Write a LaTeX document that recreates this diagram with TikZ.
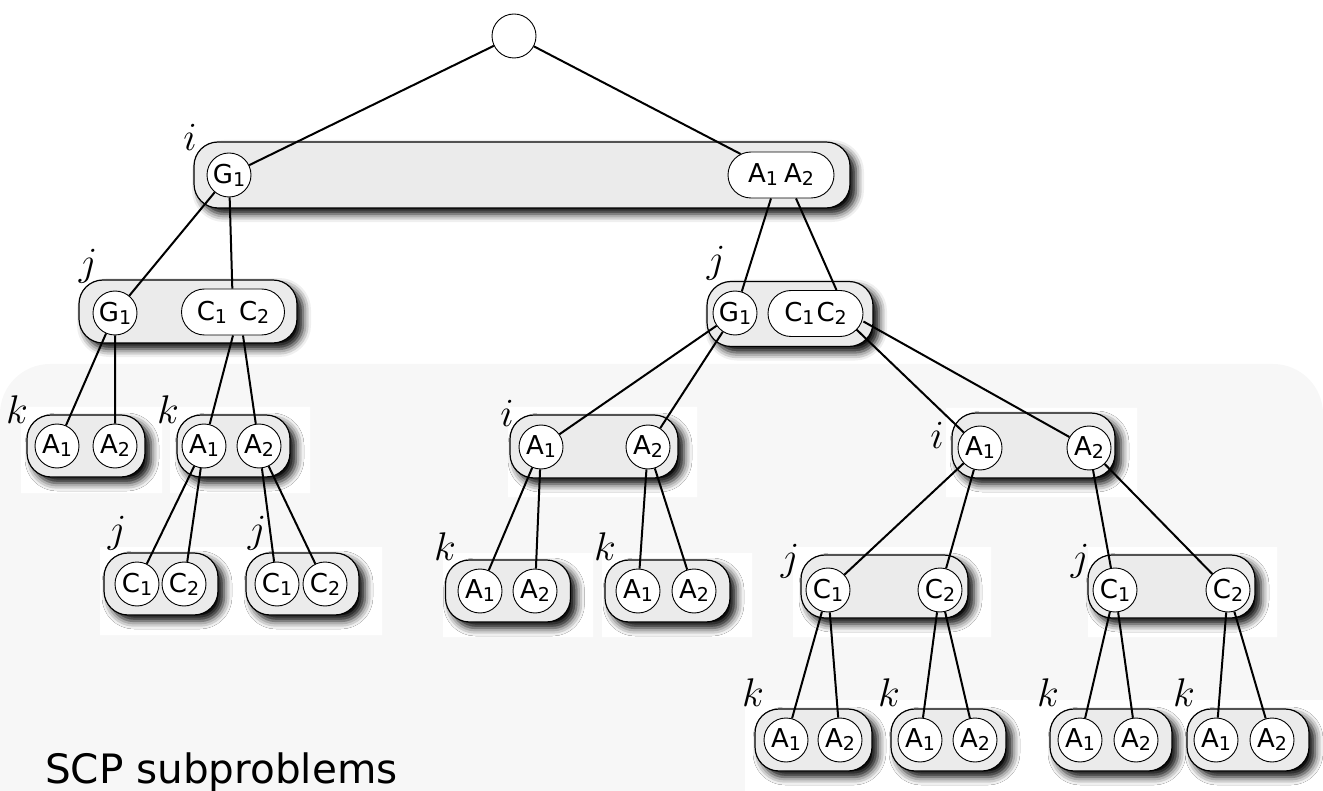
\RequirePackage{fix-cm}
\documentclass[tikz,border=0pt]{standalone}
\usepackage{fontspec}
\newfontfamily\dejavu{DejaVu Sans}
\usetikzlibrary{shapes.misc,shadows.blur}
\newcommand\ix[1]{\raisebox{-3pt}{\fontsize{19}{19}\selectfont#1}}

\begin{document}
\begin{tikzpicture}[x=1pt,y=-1pt,
    grp/.style={draw,line width=1.2pt,fill=black!8,rounded corners=24pt,inner sep=0pt,
      blur shadow={shadow xshift=6pt,shadow yshift=-6pt,shadow blur radius=8pt,shadow opacity=100}},
    ball/.style={circle,draw,line width=0.9pt,fill=white,minimum size=44pt,inner sep=0pt,
      font=\dejavu\fontsize{26}{26}\selectfont},
    pill/.style={rounded rectangle,draw,line width=0.9pt,fill=white,minimum height=46pt,inner sep=0pt,
      font=\dejavu\fontsize{26}{26}\selectfont},
    lvl/.style={inner sep=0pt,font=\fontsize{40}{40}\selectfont},
    edge/.style={line width=2pt}]
    \useasboundingbox (0,0) rectangle (1323,791);
    % shaded lower region and the white patches on it
    \fill[black!3] (0,791) -- (0,414) arc[start angle=180,end angle=270,radius=50] -- (1273,364)
      arc[start angle=270,end angle=360,radius=50] -- (1323,791) -- cycle;
    \fill[white] (21,407) rectangle (162,493) (170,407) rectangle (310,493) (100,547) rectangle (382,635);
    \fill[white] (508,407) rectangle (697,497) (443,553) rectangle (593,637) (602,553) rectangle (752,637);
    \fill[white] (946,408) rectangle (1137,497) (793,547) rectangle (991,637) (1088,547) rectangle (1277,637);
    \fill[white] (745,700) rectangle (1323,791);

    % root and first level
    \node[ball] (r) at (514,36) {};
    \node[grp,minimum width=656pt,minimum height=66pt] (bI) at (522,175) {};
    \node[ball] (iG) at (229,175) {G\ix1};
    \node[pill,minimum width=106pt] (iA) at (781,175) {A\ix1\hspace{6pt}A\ix2};
    \node[lvl] (lI) at (190,137) {$i$};

    % second level
    \node[grp,minimum width=218pt,minimum height=63pt] (bJl) at (188,311.5) {};
    \node[ball] (jlG) at (115,313) {G\ix1};
    \node[pill,minimum width=103pt] (jlC) at (233,312) {C\ix1\hspace{12pt}C\ix2};
    \node[lvl] (lJl) at (88,266) {$j$};
    \node[grp,minimum width=166pt,minimum height=65pt] (bJr) at (790,314) {};
    \node[ball] (jrG) at (735,313) {G\ix1};
    \node[pill,minimum width=95pt] (jrC) at (815.5,313.5) {C\ix1\hspace{2pt}C\ix2};
    \node[lvl] (lJr) at (716,263) {$j$};

    % left branch
    \node[grp,minimum width=118pt,minimum height=62pt] (bK1) at (86,446) {};
    \node[ball] (k1a) at (57,446) {A\ix1};
    \node[ball] (k1b) at (115,446) {A\ix2};
    \node[lvl] (lK1) at (17,410) {$k$};
    \node[grp,minimum width=113pt,minimum height=62pt] (bK2) at (233.5,446) {};
    \node[ball] (k2a) at (204,446) {A\ix1};
    \node[ball] (k2b) at (259,446) {A\ix2};
    \node[lvl] (lK2) at (168,410) {$k$};
    \node[grp,minimum width=114pt,minimum height=62pt] (bJ1) at (161,584) {};
    \node[ball] (j1a) at (137,584) {C\ix1};
    \node[ball] (j1b) at (184,584) {C\ix2};
    \node[lvl] (lJ1) at (117,533) {$j$};
    \node[grp,minimum width=113pt,minimum height=62pt] (bJ2) at (302.5,584) {};
    \node[ball] (j2a) at (277,584) {C\ix1};
    \node[ball] (j2b) at (325,584) {C\ix2};
    \node[lvl] (lJ2) at (257,533) {$j$};

    % middle branch
    \node[grp,minimum width=168pt,minimum height=63pt] (bIm) at (594,446.5) {};
    \node[ball] (ma) at (541,447) {A\ix1};
    \node[ball] (mb) at (648,447) {A\ix2};
    \node[lvl] (lIm) at (507,413) {$i$};
    \node[grp,minimum width=125pt,minimum height=62pt] (bK3) at (508,591) {};
    \node[ball] (k3a) at (480,591) {A\ix1};
    \node[ball] (k3b) at (535,591) {A\ix2};
    \node[lvl] (lK3) at (445,547) {$k$};
    \node[grp,minimum width=125pt,minimum height=62pt] (bK4) at (667.5,591) {};
    \node[ball] (k4a) at (638,591) {A\ix1};
    \node[ball] (k4b) at (694,591) {A\ix2};
    \node[lvl] (lK4) at (605,547) {$k$};

    % right branch
    \node[grp,minimum width=163pt,minimum height=65pt] (bIr) at (1033.5,445.5) {};
    \node[ball] (ra) at (980,448) {A\ix1};
    \node[ball] (rb) at (1089,448) {A\ix2};
    \node[lvl] (lIr) at (937,435) {$i$};
    \node[grp,minimum width=167pt,minimum height=63pt] (bJ3) at (884.5,586.5) {};
    \node[ball] (j3a) at (828,590) {C\ix1};
    \node[ball] (j3b) at (940,590) {C\ix2};
    \node[lvl] (lJ3) at (790,561) {$j$};
    \node[grp,minimum width=167pt,minimum height=63pt] (bJ4) at (1171.5,586.5) {};
    \node[ball] (j4a) at (1115,590) {C\ix1};
    \node[ball] (j4b) at (1228,590) {C\ix2};
    \node[lvl] (lJ4) at (1080,561) {$j$};
    \node[grp,minimum width=117pt,minimum height=62pt] (bK5) at (813.5,740) {};
    \node[ball] (k5a) at (786,740) {A\ix1};
    \node[ball] (k5b) at (840,740) {A\ix2};
    \node[lvl] (lK5) at (753,693) {$k$};
    \node[grp,minimum width=115pt,minimum height=62pt] (bK6) at (948.5,740) {};
    \node[ball] (k6a) at (920,740) {A\ix1};
    \node[ball] (k6b) at (975,740) {A\ix2};
    \node[lvl] (lK6) at (889,693) {$k$};
    \node[grp,minimum width=122pt,minimum height=62pt] (bK7) at (1111,740) {};
    \node[ball] (k7a) at (1080,740) {A\ix1};
    \node[ball] (k7b) at (1136,740) {A\ix2};
    \node[lvl] (lK7) at (1048,693) {$k$};
    \node[grp,minimum width=122pt,minimum height=62pt] (bK8) at (1248,740) {};
    \node[ball] (k8a) at (1216,740) {A\ix1};
    \node[ball] (k8b) at (1272,740) {A\ix2};
    \node[lvl] (lK8) at (1184,693) {$k$};

    \node[anchor=base west,inner sep=0pt,font=\dejavu\fontsize{40.5}{40.5}\selectfont] (cap) at (45,783) {SCP subproblems};

    % connectors
    \draw[edge] (iG) -- (r) -- (iA);
    \draw[edge] (jlG) -- (iG) -- (jlC);
    \draw[edge] ([xshift=-10pt]iA.south) -- (jrG);
    \draw[edge] ([xshift=15pt]iA.south) -- ([xshift=21pt]jrC.north);
    \draw[edge] (k1a) -- (jlG) -- (k1b);
    \draw[edge] (jlC.south) -- (k2a);
    \draw[edge] ([xshift=10pt]jlC.south) -- (k2b);
    \draw[edge] (j1a) -- (k2a) -- (j1b);
    \draw[edge] (j2a) -- (k2b) -- (j2b);
    \draw[edge] (ma) -- (jrG) -- (mb);
    \draw[edge] (k3a) -- (ma) -- (k3b);
    \draw[edge] (k4a) -- (mb) -- (k4b);
    \draw[edge] ([shift={(-7pt,-16pt)}]jrC.east) -- (ra);
    \draw[edge] ([yshift=-8pt]jrC.east) -- (rb);
    \draw[edge] (j3a) -- (ra) -- (j3b);
    \draw[edge] (j4a) -- (rb) -- (j4b);
    \draw[edge] (k5a) -- (j3a) -- (k5b);
    \draw[edge] (k6a) -- (j3b) -- (k6b);
    \draw[edge] (k7a) -- (j4a) -- (k7b);
    \draw[edge] (k8a) -- (j4b) -- (k8b);
\end{tikzpicture}
\end{document}
